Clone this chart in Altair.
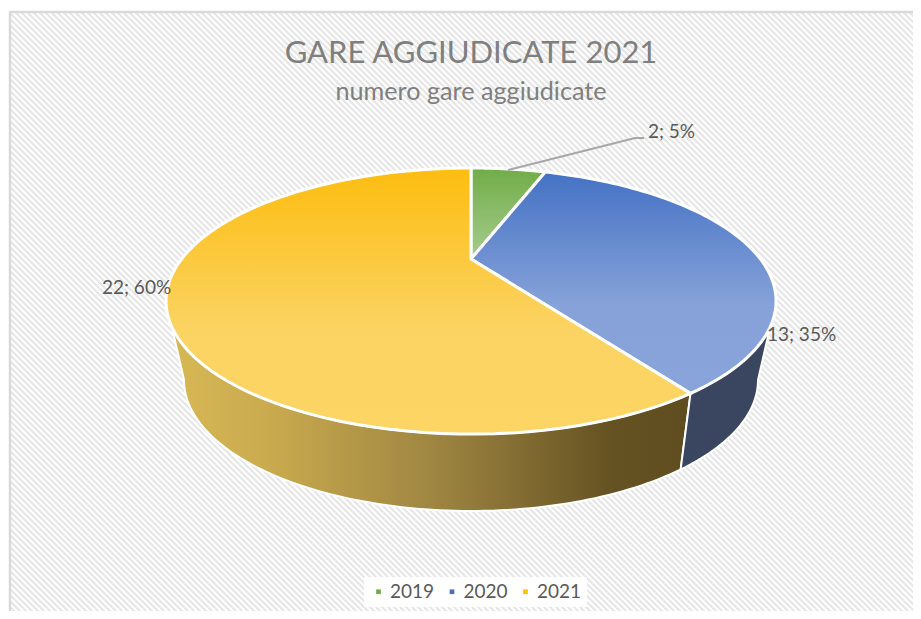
import math
import altair as alt

categories = ["2019", "2020", "2021"]
values = [2, 13, 22]
percents = [5, 35, 60]
colors = ["#70ad47", "#4472c4", "#ffc000"]

W, H = 905, 603
FONT = "Lato"
TEXT = "#595959"

# perspective of the disc
CX, CY, K, C, A = 471.0, 259.0, 289.4, 0.316, -37.9
# lower rim of the side wall
BOT_RX, BOT_CY, BOT_RY, SHRINK = 287.0, 380.0, 131.0, 0.955


def rim(theta_deg):
    t = math.radians(theta_deg)
    u, v = math.sin(t), math.cos(t)
    d = 1 + C * v
    return [CX + K * u / d, (A * v + CY) / d]


def bottom(a_deg):
    a = math.radians(a_deg)
    return [CX + BOT_RX * math.cos(a), BOT_CY + BOT_RY * math.sin(a)]


def bottom_angle(theta_deg):
    x = (rim(theta_deg)[0] - CX) * SHRINK
    return math.degrees(math.acos(x / BOT_RX))


def sweep(a, b, n=90):
    return [a + (b - a) * i / n for i in range(n + 1)]


def poly(points):
    return {"type": "Feature", "properties": {},
            "geometry": {"type": "Polygon", "coordinates": [points + [points[0]]]}}


def line(parts):
    return {"type": "Feature", "properties": {},
            "geometry": {"type": "MultiLineString", "coordinates": parts}}


def grad(stops, horizontal=False):
    return alt.Gradient(
        gradient="linear",
        x1=0, x2=1 if horizontal else 0, y1=0, y2=0 if horizontal else 1,
        stops=[alt.GradientStop(offset=o, color=c) for o, c in stops],
    )


def shape(feature, **kw):
    return alt.Chart(alt.Data(values=[feature])).mark_geoshape(**kw)


# slice boundaries in degrees, clockwise from the top of the disc
total = sum(values)
angles = [0.0]
for v in values:
    angles.append(angles[-1] + 360.0 * v / total)

# background ------------------------------------------------------------
X0, Y0, X1, Y1 = 10, 12, 925, 625
STEP = 6
hatch_parts = []
for off in range(X0 - (Y1 - Y0), X1, STEP):
    xa = max(off, X0)
    xb = min(off + (Y1 - Y0), X1)
    if xb > xa:
        hatch_parts.append([[xa, Y0 + xa - off], [xb, Y0 + xb - off]])

background = shape(poly([[X0, Y0], [X1, Y0], [X1, Y1], [X0, Y1]]), fill="#ffffff", stroke=None)
hatch = shape(line(hatch_parts), filled=False, stroke="#e6e6e6", strokeWidth=2.2)
frame = shape(line([[[X0, Y1], [X0, Y0], [X1, Y0]]]), filled=False, stroke="#d9d9d9", strokeWidth=2.5)

# side wall ------------------------------------------------------------
T_RIGHT = 108.4
T_LEFT = 251.6
edge = angles[2]
a_edge = bottom_angle(edge)

blue_side = [rim(t) for t in sweep(T_RIGHT, edge)] + [bottom(a) for a in sweep(a_edge, 0)]
gold_side = [rim(t) for t in sweep(edge, T_LEFT)] + [bottom(a) for a in sweep(180, a_edge)]

side_blue = shape(poly(blue_side), fill="#3a465f", stroke="#ffffff", strokeWidth=2)
side_gold = shape(
    poly(gold_side),
    fill=grad([(0, "#d8b855"), (0.2, "#c9aa4e"), (0.5, "#a08742"), (0.85, "#655222"), (1, "#5f4d20")], True),
    stroke="#ffffff", strokeWidth=2,
)

# top of the disc ------------------------------------------------------
apex = [CX, CY]
fills = [
    grad([(0, "#70ad47"), (1, "#a6cc8e")]),
    grad([(0, "#4472c4"), (0.6, "#86a2d9"), (1, "#88a4da")]),
    grad([(0, "#fdbd10"), (0.6, "#fbd362"), (1, "#fcd565")]),
]
tops = [
    shape(poly([apex] + [rim(t) for t in sweep(angles[i], angles[i + 1])]),
          fill=fills[i], stroke="#ffffff", strokeWidth=3, strokeJoin="miter")
    for i in range(3)
]

# leader line and labels -----------------------------------------------
leader = shape(line([[[508, 170], [635, 138], [644, 138]]]), filled=False,
               stroke="#a6a6a6", strokeWidth=2)

label_rows = [
    {"t": f"{values[0]}; {percents[0]}%", "lon": 648, "lat": 132},
    {"t": f"{values[1]}; {percents[1]}%", "lon": 767, "lat": 335},
    {"t": f"{values[2]}; {percents[2]}%", "lon": 102, "lat": 288},
]
labels = alt.Chart(alt.Data(values=label_rows)).mark_text(
    font=FONT, fontSize=19, color=TEXT, align="left", baseline="middle"
).encode(longitude="lon:Q", latitude="lat:Q", text="t:N")

title_rows = [
    {"t": "GARE AGGIUDICATE 2021", "lon": 471, "lat": 54, "s": 31},
    {"t": "numero gare aggiudicate", "lon": 471, "lat": 92, "s": 25.2},
]
titles = alt.Chart(alt.Data(values=title_rows)).mark_text(
    font=FONT, color="#7f7f7f", align="center", baseline="middle"
).encode(
    longitude="lon:Q", latitude="lat:Q", text="t:N",
    size=alt.Size("s:Q", scale=None, legend=None),
)

# legend ---------------------------------------------------------------
legend_rows = [{"c": c, "lon": CX, "lat": CY} for c in categories]
legend_layer = alt.Chart(alt.Data(values=legend_rows)).mark_square(size=1).encode(
    longitude="lon:Q", latitude="lat:Q",
    color=alt.Color(
        "c:N",
        scale=alt.Scale(domain=categories, range=colors),
        legend=alt.Legend(
            title=None, orient="none", direction="horizontal",
            legendX=356, legendY=569, symbolType="square", symbolSize=22,
            symbolOpacity=1, labelFont=FONT, labelFontSize=19, labelColor=TEXT,
            columnPadding=7.5, labelOffset=2, fillColor="#ffffff", padding=5,
        ),
    ),
)

chart = alt.layer(
    background, hatch, frame, legend_layer, side_gold, side_blue, *tops, leader, labels, titles
).project(type="identity", scale=1, translate=[-8, -8]).properties(
    width=W, height=H, padding=0, autosize=alt.AutoSizeParams(type="none"),
).configure_view(stroke=None, clip=True)

chart.save("out.html", embed_options={"renderer": "svg", "actions": False})
